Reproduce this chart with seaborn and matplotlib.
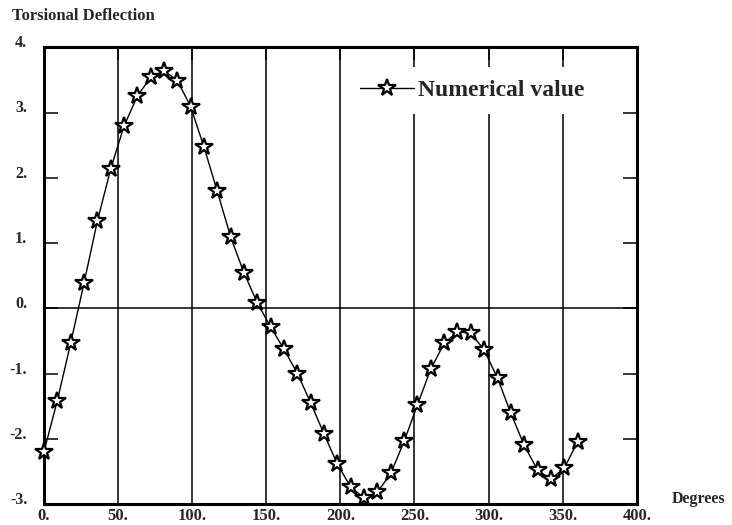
import numpy as np
import pandas as pd
import seaborn as sns
from matplotlib import pyplot as plt

# values
degrees = [0, 9, 18, 27, 36, 45, 54, 63, 72, 81, 90, 99, 108, 117, 126, 135,
           144, 153, 162, 171, 180, 189, 198, 207, 216, 225, 234, 243, 252,
           261, 270, 279, 288, 297, 306, 315, 324, 333, 342, 351, 360]
deflection = [-2.20, -1.42, -0.54, 0.38, 1.33, 2.13, 2.79, 3.25, 3.54, 3.64,
              3.49, 3.09, 2.47, 1.79, 1.09, 0.54, 0.08, -0.29, -0.63, -1.00,
              -1.45, -1.93, -2.39, -2.74, -2.91, -2.82, -2.53, -2.04, -1.48,
              -0.93, -0.54, -0.36, -0.38, -0.64, -1.07, -1.61, -2.10, -2.48,
              -2.62, -2.45, -2.05]
x_ticks = [0, 50, 100, 150, 200, 250, 300, 350, 400]
x_labels = ['0.', '50.', '100.', '150.', '200.', '250.', '300.', '350.', '400.']
y_ticks = [-3, -2, -1, 0, 1, 2, 3, 4]
y_labels = ['-3.', '-2.', '-1.', '0.', '1.', '2.', '3.', '4.']

data = pd.DataFrame({'Degrees': degrees, 'Deflection': deflection})

sns.set_style('white')
plt.rcParams['font.family'] = ['Liberation Serif', 'DejaVu Serif']
plt.rcParams['font.weight'] = 'bold'

fig = plt.figure(figsize=(7.32, 5.25), dpi=100)
ax = fig.add_axes([0.060, 0.040, 0.810, 0.870])

# grid: vertical lines at every 50 deg, a single horizontal line at zero
for xv in x_ticks[1:-1]:
    ax.axvline(xv, color='black', lw=1.1, zorder=1)
ax.axhline(0, color='black', lw=1.1, zorder=1)

sns.lineplot(data=data, x='Degrees', y='Deflection', ax=ax, color='black',
             lw=1.0, marker='*', markersize=13, markerfacecolor='white',
             markeredgecolor='black', markeredgewidth=1.6,
             label='Numerical value', zorder=3, clip_on=False)

ax.set_xlim(0, 400)
ax.set_ylim(-3, 4)
ax.set_xticks(x_ticks)
ax.set_xticklabels(x_labels, fontsize=12, fontweight='bold')
ax.set_yticks(y_ticks)
ax.set_yticklabels(y_labels, fontsize=11.5, fontweight='bold')
for lab in ax.get_yticklabels():
    lab.set_va('baseline')
ax.tick_params(axis='y', direction='in', length=10, width=1.3, pad=12,
               left=True, right=True)
ax.tick_params(axis='x', direction='in', length=9, width=1.3, pad=3,
               top=True, bottom=False)
ax.set_xlabel('')
ax.set_ylabel('')
for sp in ax.spines.values():
    sp.set_linewidth(2.2)
    sp.set_color('black')

leg = ax.legend(loc='center left', bbox_to_anchor=(0.491, 0.905),
                frameon=True, facecolor='white', edgecolor='none',
                framealpha=1, fancybox=False, borderpad=0.55,
                handlelength=2.3, handletextpad=0.15,
                prop={'family': 'Liberation Serif', 'weight': 'bold',
                      'size': 17})
# keep legend box above the grid but under the ticks and the curve
leg.set_zorder(2.2)

fig.text(12 / 732, 1 - 20 / 525, 'Torsional Deflection', fontsize=12,
         fontweight='bold', va='baseline', ha='left')
fig.text(672 / 732, 1 - 503 / 525, 'Degrees', fontsize=11.5,
         fontweight='bold', va='baseline', ha='left')

fig.savefig('out.png', dpi=100)
